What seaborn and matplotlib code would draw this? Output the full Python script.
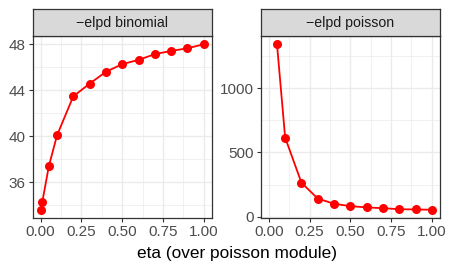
import numpy as np
import pandas as pd
import seaborn as sns
import matplotlib.pyplot as plt
from matplotlib.ticker import MultipleLocator

# values
eta_binom = [0.0, 0.01, 0.05, 0.1, 0.2, 0.3, 0.4, 0.5, 0.6, 0.7, 0.8, 0.9, 1.0]
elpd_binom = [33.6, 34.27, 37.38, 40.06, 43.47, 44.57, 45.6, 46.27, 46.64, 47.14, 47.42, 47.65, 48.0]
eta_pois = [0.05, 0.1, 0.2, 0.3, 0.4, 0.5, 0.6, 0.7, 0.8, 0.9, 1.0]
elpd_pois = [1341, 615, 264, 141, 100, 82, 72, 66, 58, 56, 54]

panels = ['\u2212elpd binomial', '\u2212elpd poisson']
x_ticks = [0.0, 0.25, 0.5, 0.75, 1.0]

df = pd.concat([
    pd.DataFrame({'eta': eta_binom, 'value': elpd_binom, 'panel': panels[0]}),
    pd.DataFrame({'eta': eta_pois, 'value': elpd_pois, 'panel': panels[1]}),
])

sns.set_style('white')
plt.rcParams['font.family'] = ['Liberation Sans', 'DejaVu Sans']

fig = plt.figure(figsize=(4.49, 2.7), dpi=100)
axes = [fig.add_axes([0.0724, 0.1926, 0.3996, 0.6741]),
        fig.add_axes([0.5806, 0.1926, 0.3994, 0.6741])]
y_major = [4, 500]
y_minor = [2, 250]

for ax, name, ymaj, ymin in zip(axes, panels, y_major, y_minor):
    sub = df[df['panel'] == name]
    ax.set_facecolor('white')
    ax.set_axisbelow(True)
    sns.lineplot(data=sub, x='eta', y='value', ax=ax, color='red',
                 marker='o', markersize=6.5, markeredgewidth=0, linewidth=1.3)
    ax.set_xlim(-0.05, 1.05)
    lo, hi = sub['value'].min(), sub['value'].max()
    pad = (hi - lo) * 0.05
    ax.set_ylim(lo - pad, hi + pad)
    ax.set_xticks(x_ticks)
    ax.set_xticklabels(['0.00', '0.25', '0.50', '0.75', '1.00'])
    ax.xaxis.set_minor_locator(MultipleLocator(0.125))
    ax.yaxis.set_major_locator(MultipleLocator(ymaj))
    ax.yaxis.set_minor_locator(MultipleLocator(ymin))
    ax.grid(which='major', color='#EBEBEB', linewidth=1.0)
    ax.grid(which='minor', color='#EBEBEB', linewidth=0.5)
    ax.tick_params(which='major', direction='out', length=3, width=0.8,
                   color='#333333', labelsize=11, labelcolor='#4D4D4D', pad=2,
                   bottom=True, left=True)
    ax.tick_params(which='minor', length=0)
    for s in ax.spines.values():
        s.set_color('#333333')
        s.set_linewidth(0.9)
    ax.set_xlabel('')
    ax.set_ylabel('')
    # facet strip
    strip = ax.inset_axes([0, 1.0, 1, 0.1475])
    strip.set_facecolor('#D9D9D9')
    strip.set_xticks([])
    strip.set_yticks([])
    for s in strip.spines.values():
        s.set_color('#333333')
        s.set_linewidth(0.9)
    strip.text(0.5, 0.48, name, ha='center', va='center', fontsize=10.2,
               color='#1A1A1A')

fig.text(0.527, 0.062, 'eta (over poisson module)', ha='center', va='center',
         fontsize=12.4, color='black')

plt.savefig('out.png', dpi=100)
